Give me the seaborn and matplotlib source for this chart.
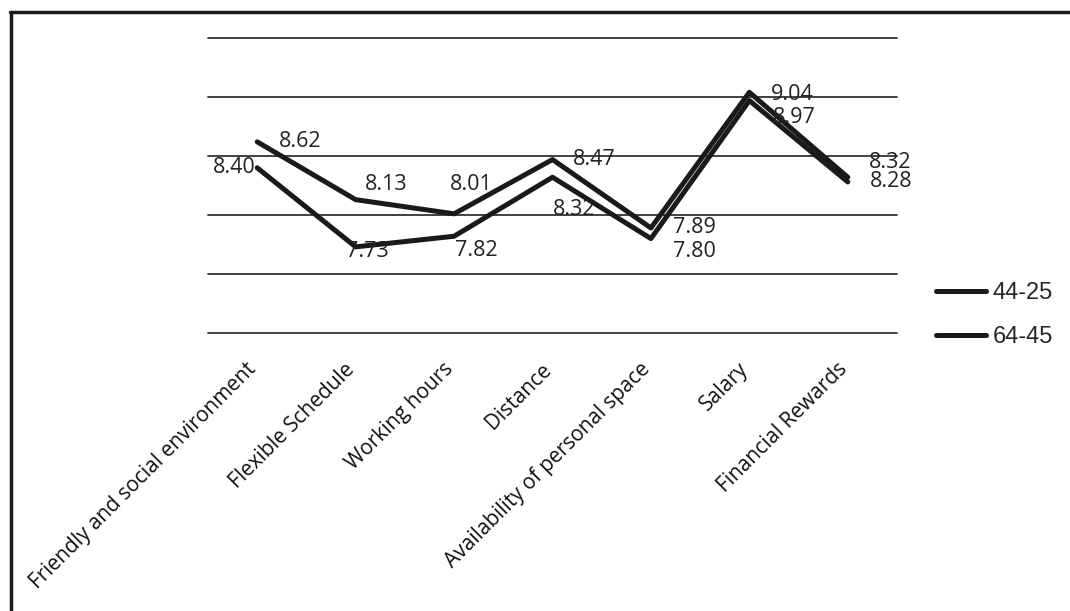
import matplotlib
matplotlib.use("Agg")
import matplotlib.pyplot as plt
from matplotlib.lines import Line2D
import matplotlib.transforms as mtransforms
import seaborn as sns
import pandas as pd

categories = ["Friendly and social environment", "Flexible Schedule", "Working hours",
              "Distance", "Availability of personal space", "Salary", "Financial Rewards"]
series_names = ["44-25", "64-45"]
values_44_25 = [8.62, 8.13, 8.01, 8.47, 7.89, 9.04, 8.32]
values_64_45 = [8.40, 7.73, 7.82, 8.32, 7.80, 8.97, 8.28]

# label offsets (pixels) for each data label
offsets_a = [(43, 0), (31, 15), (17, 29), (42, 0), (44, 0), (43, -2), (42, 15)]
offsets_b = [(-23, 0), (12, -5), (22, -14), (22, -32), (44, -13), (45, -17), (43, 0)]

df = pd.DataFrame({
    "category": categories * 2,
    "value": values_44_25 + values_64_45,
    "group": [series_names[0]] * len(categories) + [series_names[1]] * len(categories),
})
df["category"] = pd.Categorical(df["category"], categories=categories, ordered=True)
df["x"] = df["category"].cat.codes

sns.set_style("white")
plt.rcParams["font.family"] = ["Open Sans", "DejaVu Sans"]

fig = plt.figure(figsize=(10.7, 6.11), dpi=100)
ax = fig.add_axes([208 / 1070, 1 - 333 / 611, (897 - 208) / 1070, (333 - 38) / 611])

sns.lineplot(data=df, x="x", y="value", hue="group", palette=["#1a1a1a", "#1a1a1a"],
             linewidth=3.6, ax=ax, legend=False, sort=False)

ax.set_xlim(-0.5, len(categories) - 0.5)
ax.set_ylim(7.0, 9.5)
ax.set_yticks([7.0, 7.5, 8.0, 8.5, 9.0, 9.5])
ax.set_yticklabels([])
ax.tick_params(axis="y", length=0)
ax.grid(axis="y", color="#333333", linewidth=1.3)
ax.set_axisbelow(True)
for gl in ax.get_ygridlines():
    gl.set_clip_on(False)
for s in ax.spines.values():
    s.set_visible(False)

ax.set_xticks(range(len(categories)))
ax.set_xticklabels(categories, rotation=45, ha="right", va="center", rotation_mode="anchor",
                   fontsize=15, color="#111111")
ax.tick_params(axis="x", length=0, pad=24)
shift = mtransforms.ScaledTranslation(-4 / 100, 0, fig.dpi_scale_trans)
for lbl in ax.get_xticklabels():
    lbl.set_transform(lbl.get_transform() + shift)
ax.set_xlabel("")
ax.set_ylabel("")

for i, (va, vb) in enumerate(zip(values_44_25, values_64_45)):
    ax.annotate(f"{va:.2f}", (i, va), xytext=offsets_a[i], textcoords="offset pixels",
                ha="center", va="center", fontsize=15.5, color="#222222")
    ax.annotate(f"{vb:.2f}", (i, vb), xytext=offsets_b[i], textcoords="offset pixels",
                ha="center", va="center", fontsize=15.5, color="#222222")

handles = [Line2D([0], [0], color="#1a1a1a", linewidth=3.6) for _ in series_names]
leg = fig.legend(handles, series_names, loc="center left",
                 bbox_to_anchor=(915 / 1070, 1 - 315 / 611), frameon=False,
                 handlelength=2.1, handletextpad=0.3, labelspacing=0.95,
                 prop={"family": "Liberation Sans", "size": 17})

# partial frame (top and left)
fig.add_artist(Line2D([10 / 1070, 1.0], [1 - 12 / 611, 1 - 12 / 611], color="#1a1a1a",
                      linewidth=2.5, transform=fig.transFigure))
fig.add_artist(Line2D([11 / 1070, 11 / 1070], [0.0, 1 - 12 / 611], color="#1a1a1a",
                      linewidth=2.5, transform=fig.transFigure))

fig.savefig("out.png", dpi=100, facecolor="white")
